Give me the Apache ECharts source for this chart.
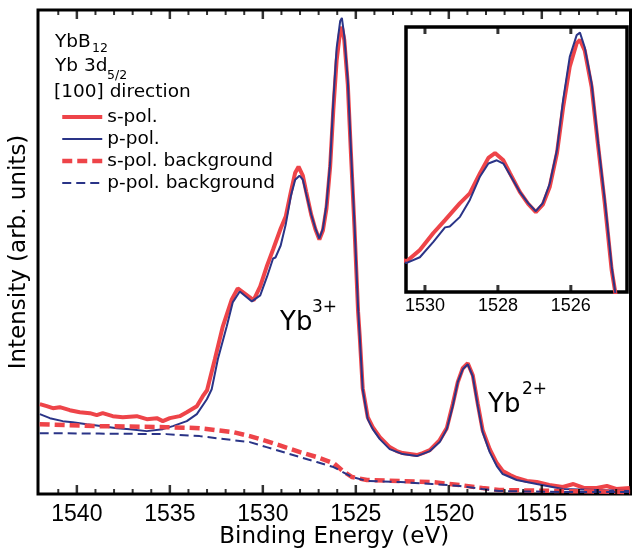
<!DOCTYPE html>
<html>
<head>
<meta charset="utf-8">
<script src="https://cdn.jsdelivr.net/npm/echarts@6/dist/echarts.min.js"></script>
<style>
  html, body { margin: 0; padding: 0; background: #fff; }
  #main { width: 632px; height: 554px; }
</style>
</head>
<body>
<div id="main"></div>
<script>
// binding energy (eV) / intensity (arb. units)
var sPolEnergy = [1541.99, 1541.62, 1541.29, 1540.92, 1540.38, 1539.84, 1539.30, 1538.93, 1538.61, 1538.07, 1537.53, 1536.78, 1536.24, 1535.70, 1535.38, 1535.0, 1534.47, 1534.09, 1533.55, 1533.23, 1533.0, 1532.58, 1532.15, 1531.67, 1531.35, 1530.70, 1530.50, 1530.14, 1529.77, 1529.45, 1529.04, 1528.77, 1528.49, 1528.26, 1528.08, 1527.85, 1527.67, 1527.40, 1527.17, 1526.96, 1526.77, 1526.58, 1526.38, 1526.21, 1526.03, 1525.84, 1525.75, 1525.62, 1525.43, 1525.26, 1525.07, 1524.88, 1524.79, 1524.63, 1524.36, 1524.09, 1523.71, 1523.18, 1522.8, 1522.48, 1522.1, 1521.72, 1521.4, 1521.02, 1520.49, 1520.11, 1519.79, 1519.52, 1519.25, 1518.98, 1518.71, 1518.44, 1518.18, 1517.80, 1517.42, 1517.10, 1516.7, 1516.35, 1515.8, 1515.27, 1514.6, 1513.87, 1513.3, 1512.7, 1512.05, 1511.5, 1511.0, 1510.27];
var sPol = [90, 88, 86, 87, 84, 82, 81, 79, 81, 78, 77, 78, 75, 76, 73, 76, 78, 82, 88, 98, 104, 135, 168, 195, 206, 197, 194, 208, 229, 245, 266, 278, 303, 322, 328, 319, 303, 280, 265, 255, 264, 286, 328, 385, 435, 464, 468, 455, 410, 340, 266, 183, 158, 106, 77, 67, 57, 47, 43, 41, 40, 39, 41, 44, 54, 66, 90, 112, 126, 131, 119, 90, 64, 45, 31, 23, 19, 16, 13, 12, 9, 7, 10, 6, 6, 8, 5, 6];

var pPolEnergy = [1541.99, 1541.45, 1540.76, 1540.22, 1539.47, 1538.61, 1537.85, 1537.15, 1536.24, 1535.38, 1534.84, 1534.09, 1533.55, 1533.01, 1532.75, 1532.42, 1531.94, 1531.62, 1531.24, 1530.59, 1530.50, 1530.14, 1529.77, 1529.45, 1529.32, 1529.04, 1528.77, 1528.49, 1528.26, 1528.03, 1527.85, 1527.67, 1527.40, 1527.17, 1526.96, 1526.77, 1526.58, 1526.38, 1526.21, 1526.03, 1525.84, 1525.75, 1525.62, 1525.43, 1525.26, 1525.07, 1524.88, 1524.79, 1524.63, 1524.36, 1524.09, 1523.71, 1523.18, 1522.48, 1521.72, 1521.02, 1520.49, 1520.11, 1519.79, 1519.52, 1519.25, 1518.98, 1518.71, 1518.44, 1518.18, 1517.80, 1517.42, 1517.10, 1516.35, 1515.27, 1513.87, 1512.05, 1510.27];
var pPol = [80, 76, 73, 72, 70, 68, 66, 65, 63, 65, 68, 73, 80, 95, 105, 135, 168, 192, 203, 193, 192, 199, 218, 236, 237, 249, 270, 299, 315, 319, 315, 301, 280, 266, 256, 266, 290, 332, 394, 447, 474, 477, 459, 414, 344, 270, 187, 158, 105, 75, 65, 55, 45, 40, 38, 43, 52, 65, 88, 112, 125, 130, 118, 88, 62, 42, 28, 20, 14, 10, 5, 4, 3];

var bgEnergy = [1542.0, 1538.8, 1535.2, 1533.4, 1531.6, 1530.7, 1529.8, 1528.0, 1527.1, 1526.2, 1525.7, 1525.2, 1524.4, 1522.6, 1520.9, 1519.4, 1518.2, 1517.3, 1514.0, 1510.25];
var sPolBg = [70, 68, 67, 66, 62, 58, 53, 42, 37, 31, 23, 17, 14, 13, 12, 9, 6, 4, 3, 2];
var pPolBg = [61, 60.5, 60, 58, 54, 52, 47, 37, 32, 27, 22, 17, 13, 12, 10, 8, 5, 3, 2, 2];

// tick positions (eV)
var majorTicks = [1515, 1520, 1525, 1530, 1535, 1540];
var minorTicks = [1511, 1512, 1513, 1514, 1516, 1517, 1518, 1519, 1521, 1522, 1523, 1524, 1526, 1527, 1528, 1529, 1531, 1532, 1533, 1534, 1536, 1537, 1538, 1539, 1541];
var insetTicks = [1526, 1528, 1530];

var names = ['s-pol.', 'p-pol.', 's-pol. background', 'p-pol. background'];
var RED = '#ee4449';
var BLUE = '#2a3487';

// axis extents (eV); the axes run on -E so energy decreases to the right
var mainLo = 1510.23, mainHi = 1542.09;
var insetLo = 1524.46, insetHi = 1530.52;
var mainYMax = 485;
var insetYMin = 156, insetYMax = 484;

function pairs(xs, ys) {
  return xs.map(function (x, i) { return [-x, ys[i]]; });
}

var chart = echarts.init(document.getElementById('main'));

// main plot box
var M = { left: 38, right: 1.5, top: 10, bottom: 59 };
var mW = 632 - M.left - M.right;
function mX(e) { return M.left + (mainHi - e) / (mainHi - mainLo) * mW; }
// inset box
var I = { left: 406, right: 5, top: 27, bottom: 262 };
var iW = 632 - I.left - I.right;
function iX(e) { return I.left + (insetHi - e) / (insetHi - insetLo) * iW; }

// invisible grids that only carry the tick labels, so labels start on round values
function labelGrid(xfn, lo, hi, box) {
  return { left: xfn(hi), right: 632 - xfn(lo), top: box.top, bottom: box.bottom, show: false };
}
function energyLabel(v) { return String(-v); }
function hidden(grid, lo, hi) {
  return { type: 'value', gridIndex: grid, min: lo, max: hi,
    axisLine: { show: false }, axisTick: { show: false }, axisLabel: { show: false }, splitLine: { show: false } };
}

// tick marks drawn as thin rectangles standing on the frame (inward)
function tickSeries(xAxisIndex, yAxisIndex, ticks, yVal, w, len, down) {
  return {
    type: 'scatter', xAxisIndex: xAxisIndex, yAxisIndex: yAxisIndex,
    silent: true, clip: false, z: 5,
    symbol: 'rect', symbolSize: [w, len], symbolOffset: [0, down ? '50%' : '-50%'],
    itemStyle: { color: '#000' },
    data: ticks.map(function (t) { return [-t, yVal]; })
  };
}

var option = {
  animation: false,
  backgroundColor: '#fff',
  textStyle: { fontFamily: 'DejaVu Sans' },
  grid: [
    { left: M.left, right: M.right, top: M.top, bottom: M.bottom, show: true, borderColor: '#000', borderWidth: 3, backgroundColor: 'transparent' },
    { left: I.left, right: I.right, top: I.top, bottom: I.bottom, show: true, borderColor: '#000', borderWidth: 3.5, backgroundColor: '#fff' },
    labelGrid(mX, 1515, 1540, M),
    labelGrid(iX, 1526, 1530, I)
  ],
  legend: {
    data: names,
    orient: 'vertical',
    left: 55, top: 102,
    itemWidth: 40, itemHeight: 14, itemGap: 2,
    selectedMode: false,
    itemStyle: { opacity: 0 },
    lineStyle: { width: 'inherit' },
    textStyle: { fontFamily: 'DejaVu Sans', fontSize: 18.5, color: '#000', lineHeight: 20 }
  },
  xAxis: [
    Object.assign(hidden(0, -mainHi, -mainLo), {
      name: 'Binding Energy (eV)', nameLocation: 'middle', nameGap: 32,
      nameTextStyle: { fontFamily: 'DejaVu Sans', fontSize: 23, color: '#000' }
    }),
    hidden(1, -insetHi, -insetLo),
    {
      type: 'value', gridIndex: 2, min: -1540, max: -1515, interval: 5,
      axisLine: { show: false, onZero: false }, axisTick: { show: false }, splitLine: { show: false },
      axisLabel: { show: true, margin: 8, color: '#000', formatter: energyLabel,
        fontFamily: 'Liberation Sans', fontSize: 23 }
    },
    {
      type: 'value', gridIndex: 3, min: -1530, max: -1526, interval: 2,
      axisLine: { show: false, onZero: false }, axisTick: { show: false }, splitLine: { show: false },
      axisLabel: { show: true, margin: 5, color: '#000', formatter: energyLabel,
        fontFamily: 'Liberation Sans', fontSize: 18 }
    }
  ],
  yAxis: [
    Object.assign(hidden(0, 0, mainYMax), {
      name: 'Intensity (arb. units)', nameLocation: 'middle', nameGap: 7,
      nameTextStyle: { fontFamily: 'DejaVu Sans', fontSize: 23, color: '#000' }
    }),
    hidden(1, insetYMin, insetYMax),
    hidden(2, 0, 1),
    hidden(3, 0, 1)
  ],
  series: [
    { name: names[0], type: 'line', xAxisIndex: 0, yAxisIndex: 0, symbol: 'none',
      data: pairs(sPolEnergy, sPol), lineStyle: { color: RED, width: 4 }, itemStyle: { color: RED } },
    { name: names[1], type: 'line', xAxisIndex: 0, yAxisIndex: 0, symbol: 'none',
      data: pairs(pPolEnergy, pPol), lineStyle: { color: BLUE, width: 2 }, itemStyle: { color: BLUE } },
    { name: names[2], type: 'line', xAxisIndex: 0, yAxisIndex: 0, symbol: 'none',
      data: pairs(bgEnergy, sPolBg), lineStyle: { color: RED, width: 4.5, type: [10, 5] }, itemStyle: { color: RED } },
    { name: names[3], type: 'line', xAxisIndex: 0, yAxisIndex: 0, symbol: 'none',
      data: pairs(bgEnergy, pPolBg), lineStyle: { color: BLUE, width: 2, type: [9, 5] }, itemStyle: { color: BLUE } },
    // inset: zoom on the Yb3+ multiplet
    { name: names[0], type: 'line', xAxisIndex: 1, yAxisIndex: 1, symbol: 'none', clip: true,
      data: pairs(sPolEnergy, sPol), lineStyle: { color: RED, width: 4 }, itemStyle: { color: RED } },
    { name: names[1], type: 'line', xAxisIndex: 1, yAxisIndex: 1, symbol: 'none', clip: true,
      data: pairs(pPolEnergy, pPol), lineStyle: { color: BLUE, width: 2 }, itemStyle: { color: BLUE } },
    // ticks: main plot bottom and top, inset bottom and top
    tickSeries(0, 0, majorTicks, 0, 2.5, 9, false),
    tickSeries(0, 0, minorTicks, 0, 2, 5, false),
    tickSeries(0, 0, majorTicks, mainYMax, 2.5, 9, true),
    tickSeries(0, 0, minorTicks, mainYMax, 2, 5, true),
    tickSeries(1, 1, insetTicks, insetYMin, 3, 7, false),
    tickSeries(1, 1, insetTicks, insetYMax, 3, 7, true)
  ],
  graphic: [
    { type: 'text', left: 55, top: 33, style: { text: 'YbB', font: '18.5px "DejaVu Sans"', fill: '#000' } },
    { type: 'text', left: 92, top: 42, style: { text: '12', font: '12.5px "DejaVu Sans"', fill: '#000' } },
    { type: 'text', left: 55, top: 57, style: { text: 'Yb 3d', font: '18.5px "DejaVu Sans"', fill: '#000' } },
    { type: 'text', left: 107, top: 69, style: { text: '5/2', font: '12.5px "DejaVu Sans"', fill: '#000' } },
    { type: 'text', left: 54, top: 83, style: { text: '[100] direction', font: '18.5px "DejaVu Sans"', fill: '#000' } },
    { type: 'text', left: 280, top: 310, style: { text: 'Yb', font: '26px "DejaVu Sans"', fill: '#000' } },
    { type: 'text', left: 312, top: 299, style: { text: '3+', font: '17px "DejaVu Sans"', fill: '#000' } },
    { type: 'text', left: 488, top: 392, style: { text: 'Yb', font: '26px "DejaVu Sans"', fill: '#000' } },
    { type: 'text', left: 522, top: 381, style: { text: '2+', font: '17px "DejaVu Sans"', fill: '#000' } }
  ]
};

chart.setOption(option);
</script>
</body>
</html>
